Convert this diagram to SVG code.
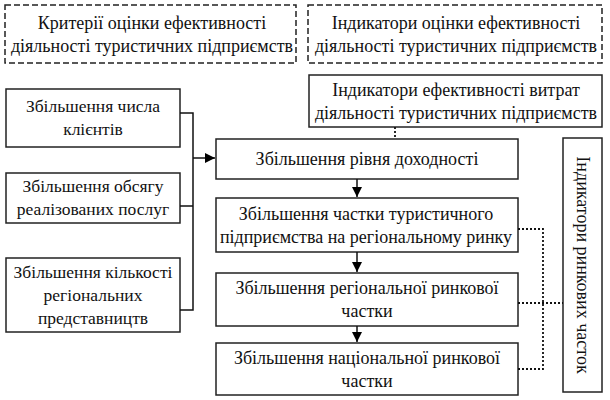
<svg xmlns="http://www.w3.org/2000/svg" width="610" height="400" viewBox="0 0 610 400">
<defs>
<marker id="arr" viewBox="0 0 10 10" refX="10" refY="5" markerWidth="10" markerHeight="10" markerUnits="userSpaceOnUse" orient="auto">
<path d="M0,0 L10,5 L0,10 z" fill="#000"/>
</marker>
<style>
.box{fill:#fff;stroke:#222;stroke-width:1.5}
.dash{fill:#fff;stroke:#222;stroke-width:1.5;stroke-dasharray:6,3}
text{font-family:"Liberation Serif","Times New Roman",serif;font-size:18px;fill:#111;text-anchor:middle}
.sm{font-size:17.5px}
.ln{fill:none;stroke:#111;stroke-width:1.5}
.dot{fill:none;stroke:#111;stroke-width:1.8;stroke-dasharray:2,2}
</style>
</defs>
<g id="criteria">
<rect class="dash" x="5" y="5" width="291" height="58"/>
<text x="152" y="29">Критерії оцінки ефективності</text>
<text x="152" y="52">діяльності туристичних підприємств</text>
</g>
<g id="indicators">
<rect class="dash" x="308" y="5" width="294" height="58"/>
<text x="456" y="29">Індикатори оцінки ефективності</text>
<text x="456" y="52">діяльності туристичних підприємств</text>
</g>
<g id="cost-indicators">
<rect class="box" x="309" y="75" width="293" height="52"/>
<text x="456" y="96">Індикатори ефективності витрат</text>
<text x="456" y="119">діяльності туристичних підприємств</text>
</g>
<g id="clients">
<rect class="box" x="6" y="89" width="174" height="58"/>
<text class="sm" x="93" y="112">Збільшення числа</text>
<text class="sm" x="93" y="135">клієнтів</text>
</g>
<g id="services">
<rect class="box" x="6" y="173" width="174" height="50"/>
<text class="sm" x="93" y="192">Збільшення обсягу</text>
<text class="sm" x="93" y="215">реалізованих послуг</text>
</g>
<g id="representatives">
<rect class="box" x="6" y="258" width="174" height="74"/>
<text class="sm" x="93" y="278">Збільшення кількості</text>
<text class="sm" x="93" y="301">регіональних</text>
<text class="sm" x="93" y="324">представництв</text>
</g>
<g id="profit">
<rect class="box" x="216" y="139" width="302" height="40"/>
<text x="367" y="165">Збільшення рівня доходності</text>
</g>
<g id="regional-share-firm">
<rect class="box" x="216" y="198" width="302" height="54"/>
<text x="366" y="220">Збільшення частки туристичного</text>
<text x="366" y="243">підприємства на регіональному ринку</text>
</g>
<g id="regional-share">
<rect class="box" x="216" y="273" width="302" height="53"/>
<text x="367" y="294">Збільшення регіональної ринкової</text>
<text x="367" y="317">частки</text>
</g>
<g id="national-share">
<rect class="box" x="216" y="343" width="302" height="52"/>
<text x="367" y="364">Збільшення національної ринкової</text>
<text x="367" y="387">частки</text>
</g>
<g id="market-indicators">
<rect class="box" x="563" y="138" width="39" height="254"/>
<text transform="translate(577,265) rotate(90)">Індикатори ринкових часток</text>
</g>
<g id="connectors">
<path class="ln" d="M180,113 H193 V310 H180 M180,206 H193"/>
<path class="ln" d="M193,158 H215" marker-end="url(#arr)"/>
<path class="ln" d="M357,179 V197" marker-end="url(#arr)"/>
<path class="ln" d="M357,252 V272" marker-end="url(#arr)"/>
<path class="ln" d="M357,326 V342" marker-end="url(#arr)"/>
<path class="dot" d="M395,127 V139"/>
<path class="dot" d="M518,229 H543 V369 H518 M518,303 H563"/>
</g>
</svg>
